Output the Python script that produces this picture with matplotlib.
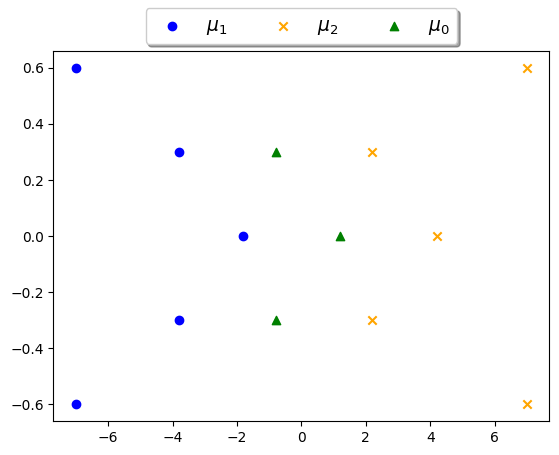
import matplotlib
matplotlib.use('Agg')
from matplotlib import pyplot as plt

# cluster means
mu1_x = [-7, -3.8, -1.8, -3.8, -7]
mu1_y = [0.6, 0.3, 0.0, -0.3, -0.6]
mu2_x = [7, 2.2, 4.2, 2.2, 7]
mu2_y = [0.6, 0.3, 0.0, -0.3, -0.6]
mu0_x = [-0.8, 1.2, -0.8]
mu0_y = [0.3, 0.0, -0.3]

fig = plt.figure(figsize=(5.59, 4.55), dpi=100)
ax = fig.add_axes([0.0957, 0.0747, 0.887, 0.813])

ax.scatter(mu1_x, mu1_y, color='blue', marker='o', label=r'$\mu_1$')
ax.scatter(mu2_x, mu2_y, color='orange', marker='x', label=r'$\mu_2$')
ax.scatter(mu0_x, mu0_y, color='green', marker='^', label=r'$\mu_0$')

ax.legend(loc='lower center', bbox_to_anchor=(0.5, 1.0), borderaxespad=0.37,
          ncol=3, fancybox=True, shadow=True, fontsize=13.5)

plt.savefig('out.png')
plt.close()
